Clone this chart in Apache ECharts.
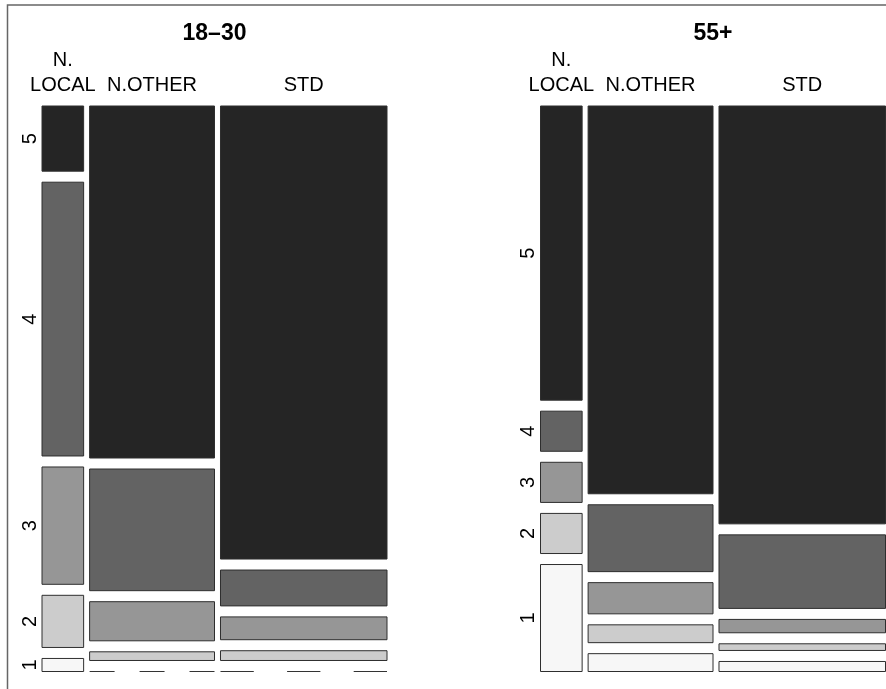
<!DOCTYPE html>
<html>
<head>
<meta charset="utf-8">
<script src="https://cdn.jsdelivr.net/npm/echarts@6/dist/echarts.min.js"></script>
<style>html,body{margin:0;padding:0;background:#fff;}#main{width:886px;height:689px;}</style>
</head>
<body>
<div id="main"></div>
<script>
// ---- data ----
const ratings = ['1', '2', '3', '4', '5'];
const types = ['N.\nLOCAL', 'N.OTHER', 'STD'];
const ageGroups = ['18–30', '55+'];
// counts per rating 1..5 for each type
const young_NLOCAL = [2, 8, 18, 42, 10];
const young_NOTHER = [0, 4, 18, 56, 162];
const young_STD    = [0, 6, 14, 22, 278];
const old_NLOCAL   = [8, 3, 3, 3, 22];
const old_NOTHER   = [4, 4, 7, 15, 87];
const old_STD      = [3, 2, 4, 22, 125];
const greys = ['#f7f7f7', '#cccccc', '#969696', '#636363', '#252525'];

const panels = [
  [young_NLOCAL, young_NOTHER, young_STD],
  [old_NLOCAL, old_NOTHER, old_STD]
];

const FONT = "'Liberation Sans', Arial, Helvetica, sans-serif";
const xGap = 0.018;   // spacing between columns (axis units)
const yGap = 0.0211;  // spacing between cells (axis units)

function buildCells(cols) {
  const colTotals = cols.map(c => c.reduce((a, b) => a + b, 0));
  const grand = colTotals.reduce((a, b) => a + b, 0);
  const out = [];
  let xs = 0;
  cols.forEach((col, ci) => {
    const w = colTotals[ci] / grand;
    let ys = 0;
    col.forEach((n, ri) => {
      const h = n / colTotals[ci];
      out.push([xs, xs + w, ys, ys + h, ri, ci, n]);
      ys += h + yGap;
    });
    xs += w + xGap;
  });
  return out;
}

function renderItem(params, api) {
  const x0 = api.value(0), x1 = api.value(1), y0 = api.value(2), y1 = api.value(3);
  const r = api.value(4), c = api.value(5), n = api.value(6);
  const p0 = api.coord([x0, y0]);
  const p1 = api.coord([x1, y1]);
  const w = p1[0] - p0[0];
  const children = [];
  if (n > 0) {
    children.push({
      type: 'rect',
      shape: { x: p0[0], y: p1[1], width: w, height: p0[1] - p1[1] },
      style: { fill: greys[r], stroke: '#2e2e2e', lineWidth: 1 }
    });
  } else {
    children.push({
      type: 'line',
      shape: { x1: p0[0], y1: p0[1], x2: p1[0], y2: p0[1] },
      style: { stroke: '#333', lineWidth: 1, lineDash: [w / 5, w / 5] }
    });
  }
  if (c === 0) {
    children.push({
      type: 'text',
      x: p0[0] - 12, y: (p0[1] + p1[1]) / 2,
      rotation: Math.PI / 2,
      style: { text: ratings[r], fill: '#000', font: '20px ' + FONT, align: 'center', verticalAlign: 'middle', textAlign: 'center', textVerticalAlign: 'middle' }
    });
  }
  if (r === 4) {
    children.push({
      type: 'text',
      x: (p0[0] + p1[0]) / 2, y: p1[1] - 8,
      style: { text: types[c], fill: '#000', font: '20px ' + FONT, lineHeight: 25, align: 'center', verticalAlign: 'bottom', textAlign: 'center', textVerticalAlign: 'bottom' }
    });
  }
  return { type: 'group', children: children };
}

const gridTop = 106, gridH = 565.5, gridW = 345;
const gridLefts = [42, 540.5];

const chart = echarts.init(document.getElementById('main'), null, { renderer: 'canvas' });
const option = {
  backgroundColor: '#fff',
  animation: false,
  title: ageGroups.map((t, i) => ({
    text: t,
    left: gridLefts[i] + gridW / 2,
    top: 22,
    padding: 0,
    textAlign: 'center',
    textStyle: { fontSize: 23, fontWeight: 'bold', fontFamily: FONT, color: '#000' }
  })),
  graphic: [{
    type: 'rect', x: 7.5, y: 5, silent: true,
    shape: { x: 0, y: 0, width: 1000, height: 800 },
    style: { fill: 'none', stroke: '#666', lineWidth: 1.5 }
  }],
  grid: gridLefts.map(l => ({ left: l, top: gridTop, width: gridW, height: gridH })),
  xAxis: gridLefts.map((l, i) => ({ type: 'value', gridIndex: i, min: 0, max: 1 + 2 * xGap, show: false })),
  yAxis: gridLefts.map((l, i) => ({ type: 'value', gridIndex: i, min: 0, max: 1 + 4 * yGap, show: false })),
  series: panels.map((cols, i) => ({
    type: 'custom',
    xAxisIndex: i, yAxisIndex: i,
    renderItem: renderItem,
    encode: { x: [0, 1], y: [2, 3] },
    data: buildCells(cols),
    clip: false
  }))
};
chart.setOption(option);
</script>
</body>
</html>
